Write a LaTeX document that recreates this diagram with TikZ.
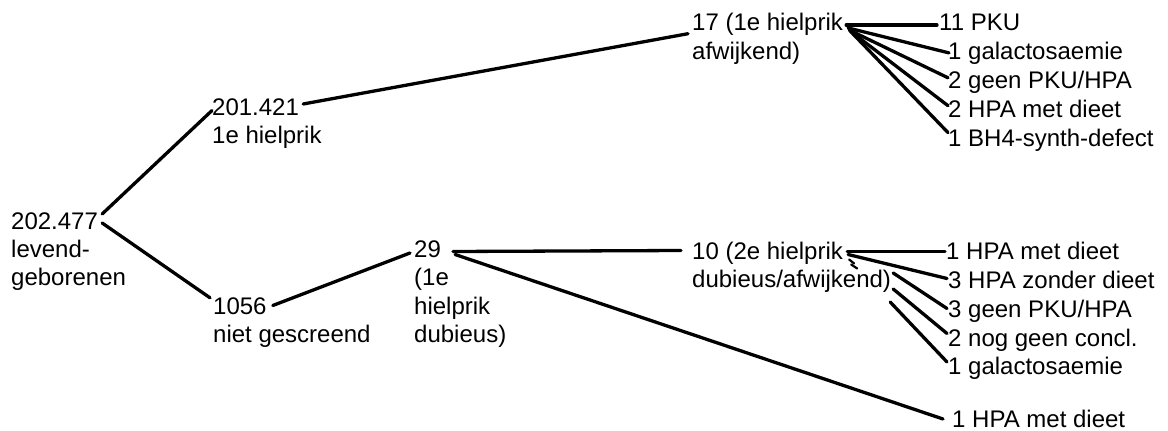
\documentclass[tikz,border=0pt]{standalone}
\usepackage{fontspec}
\setmainfont{Liberation Sans}
\begin{document}
\begin{tikzpicture}[x=1pt,y=-1pt,
  lbl/.style={anchor=base west, inner sep=0pt, text height=17pt, text depth=0pt,
              font=\fontsize{24}{28}\selectfont},
  link/.style={line width=3.3pt, line cap=round, line join=round}]
\useasboundingbox[fill=white] (0,0) rectangle (1168,431);

% root
\node[lbl] (A1) at (11,229.5) {202.477};
\node[lbl] (A2) at (11,257.5) {levend-};
\node[lbl] (A3) at (11,285.5) {geborenen};

% first level
\node[lbl] (B1) at (212,115) {201.421};
\node[lbl] (B2) at (212,143.5) {1e hielprik};
\node[lbl] (C1) at (213,314) {1056};
\node[lbl] (C2) at (213,342) {niet gescreend};

% second level
\node[lbl] (D1) at (414,257) {29};
\node[lbl] (D2) at (414,285.5) {(1e};
\node[lbl] (D3) at (414,314) {hielprik};
\node[lbl] (D4) at (414,342.5) {dubieus)};

\node[lbl] (E1) at (692,30.5) {17 (1e hielprik};
\node[lbl] (E2) at (692,59) {afwijkend)};
\node[lbl] (F1) at (692,259) {10 (2e hielprik};
\node[lbl] (F2) at (692,287.5) {dubieus/afwijkend)};

% outcomes, upper group
\node[lbl] (R1) at (939,30.5) {11 PKU};
\node[lbl] (R2) at (948,59.4) {1 galactosaemie};
\node[lbl] (R3) at (948,88.3) {2 geen PKU/HPA};
\node[lbl] (R4) at (948,117.2) {2 HPA met dieet};
\node[lbl] (R5) at (948,146.1) {1 BH4-synth-defect};

% outcomes, lower group
\node[lbl] (L1) at (946,259) {1 HPA met dieet};
\node[lbl] (L2) at (948,288) {3 HPA zonder dieet};
\node[lbl] (L3) at (948,317) {3 geen PKU/HPA};
\node[lbl] (L4) at (948,346) {2 nog geen concl.};
\node[lbl] (L5) at (948,374.5) {1 galactosaemie};
\node[lbl] (G)  at (952,427.5) {1 HPA met dieet};

% branches
\draw[link] ([xshift=4pt,yshift=7pt]A1.east) -- ([yshift=-4pt]B1.west);
\draw[link] ([xshift=4pt,yshift=-2pt]A1.east) -- ([xshift=-3pt,yshift=-1pt]C1.north west);
\draw[link] ([xshift=4pt,yshift=2.5pt]B1.east) -- ([xshift=-4pt,yshift=-3pt]E1.south west);
\draw[link] ([xshift=6pt]C1.east) -- ([xshift=-4pt,yshift=-4.5pt]D1.west);
\draw[link] ([xshift=12pt,yshift=-3pt]D1.east) -- ([xshift=-11pt]F1.west);
\draw[link] ([xshift=14pt,yshift=-6pt]D1.east) -- ([xshift=-9pt]G.west);

% fan of the upper group
\draw[link] ([xshift=3pt,yshift=-3pt]E1.east) -- ([xshift=-2pt,yshift=-3pt]R1.west);
\draw[link] ([xshift=5pt,yshift=-6pt]E1.east) -- ([xshift=1pt,yshift=-2pt]R2.west);
\draw[link] ([xshift=6pt,yshift=-8pt]E1.east) -- ([yshift=2pt]R3.west);
\draw[link] ([xshift=7pt,yshift=-9pt]E1.east) -- ([yshift=3pt]R4.west);
\draw[link] ([xshift=8pt,yshift=-10pt]E1.east) -- ([yshift=5pt]R5.west);

% fan of the lower group
\draw[link] ([xshift=4pt,yshift=-1pt]F1.east) -- ([xshift=-1pt,yshift=-1pt]L1.west);
\draw[link] ([xshift=5pt,yshift=-4pt]F1.east) -- ([xshift=-1pt,yshift=1pt]L2.west);
\draw[link] ([xshift=2pt,yshift=6pt]F2.east) -- ([xshift=-1pt]L3.west);
\draw[link] ([xshift=2pt,yshift=-10pt]F2.east) -- ([xshift=-1pt,yshift=4pt]L4.west);
\draw[link] ([xshift=-1pt,yshift=-23pt]F2.east) -- ([xshift=-1pt,yshift=4pt]L5.west);

% two short stray strokes below the lower fan
\draw[line width=2.2pt, line cap=round] ([xshift=6pt,yshift=-9pt]F1.east) -- ([xshift=11pt,yshift=-13pt]F1.east);
\draw[line width=2.2pt, line cap=round] ([xshift=8pt,yshift=-14pt]F1.east) -- ([xshift=14pt,yshift=-18pt]F1.east);
\end{tikzpicture}
\end{document}
